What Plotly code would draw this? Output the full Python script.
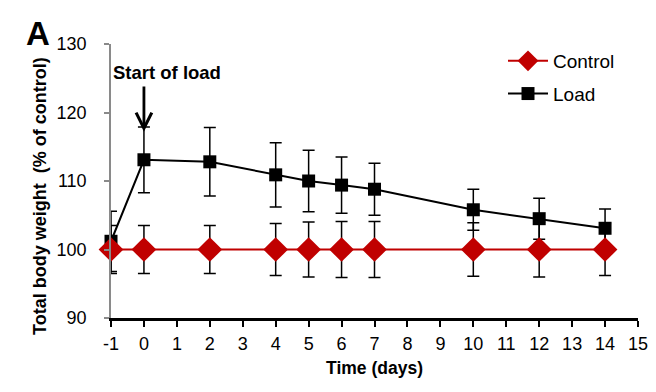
import plotly.graph_objects as go

days = [-1, 0, 2, 4, 5, 6, 7, 10, 12, 14]
control = [100, 100, 100, 100, 100, 100, 100, 100, 100, 100]
control_err = [3.5, 3.5, 3.5, 3.8, 4.0, 4.1, 4.1, 3.9, 4.0, 3.8]
load = [101.2, 113.1, 112.8, 110.9, 110.0, 109.4, 108.8, 105.8, 104.5, 103.1]
load_err = [4.4, 4.8, 5.0, 4.7, 4.5, 4.1, 3.8, 3.0, 3.0, 2.8]
x_ticks = list(range(-1, 16))
y_ticks = [90, 100, 110, 120, 130]

RED = "#C00000"
FONT = "Liberation Sans, Arial, sans-serif"

# page body has an 8px margin; figure offset by (8, 8) in the window
W, H = 648, 384
L, R, T, B = 103, 18, 36, 74
PW, PH = W - L - R, H - T - B

def px(xf):
    return (xf - L) / PW

def py(yf):
    return (H - B - yf) / PH

fig = go.Figure()
fig.add_trace(go.Scatter(
    x=days, y=load, name="Load", mode="lines+markers",
    line=dict(color="black", width=2),
    marker=dict(symbol="square", size=13, color="black"),
    error_y=dict(type="data", array=load_err, color="black", thickness=1.5, width=6),
    legendgroup="b", legendrank=2, cliponaxis=False,
))
fig.add_trace(go.Scatter(
    x=days, y=control, name="Control", mode="lines+markers",
    line=dict(color=RED, width=2),
    marker=dict(symbol="diamond", size=19, color=RED),
    error_y=dict(type="data", array=control_err, color="black", thickness=1.5, width=6),
    legendgroup="a", legendrank=1, cliponaxis=False,
))

fig.add_annotation(x=0, y=117.2, ax=0, ay=124.0, axref="x", ayref="y",
                   text="", showarrow=True, arrowhead=5, arrowsize=1.1,
                   arrowwidth=2.8, arrowcolor="black")
fig.add_annotation(x=0.70, y=125.9, text="<b>Start of load</b>", showarrow=False,
                   font=dict(size=18.5, color="black", family=FONT))
fig.add_annotation(x=px(30), y=py(26), xref="paper", yref="paper",
                   xanchor="center", yanchor="middle",
                   text="<b>A</b>", showarrow=False,
                   font=dict(size=33, color="black", family=FONT))
fig.add_annotation(x=px(32), y=py(188), xref="paper", yref="paper",
                   xanchor="center", yanchor="middle", textangle=-90,
                   text="<b>Total body weight  (% of control)</b>", showarrow=False,
                   font=dict(size=18, color="black", family=FONT))

fig.update_layout(
    width=W, height=H,
    margin=dict(l=L, r=R, t=T, b=B),
    paper_bgcolor="white", plot_bgcolor="white",
    font=dict(family=FONT, size=18, color="black"),
    showlegend=True,
    legend=dict(x=px(495), y=py(34), xanchor="left", yanchor="top",
                traceorder="grouped", tracegroupgap=5,
                font=dict(size=19, family=FONT), bgcolor="rgba(0,0,0,0)",
                itemwidth=40),
)
fig.update_xaxes(
    range=[-1, 15], tickvals=x_ticks, ticktext=[str(v) for v in x_ticks],
    showgrid=False, zeroline=False, showline=True, linecolor="black", linewidth=2.5,
    ticks="outside", ticklen=6, tickwidth=2, tickcolor="black", automargin=False,
    tickfont=dict(size=18, family=FONT), ticklabelstandoff=2, ticklabeloverflow="allow",
    title=dict(text="<b>Time (days)</b>", font=dict(size=17.5, family=FONT), standoff=9),
)
fig.update_yaxes(
    range=[90, 130], tickvals=y_ticks,
    showgrid=False, zeroline=False, showline=True, linecolor="#8a8a8a", linewidth=1.5,
    ticks="outside", ticklen=5, tickwidth=1.5, tickcolor="#8a8a8a", automargin=False,
    tickfont=dict(size=18, family=FONT), ticklabelstandoff=14,
)

fig.write_html("out.html")
